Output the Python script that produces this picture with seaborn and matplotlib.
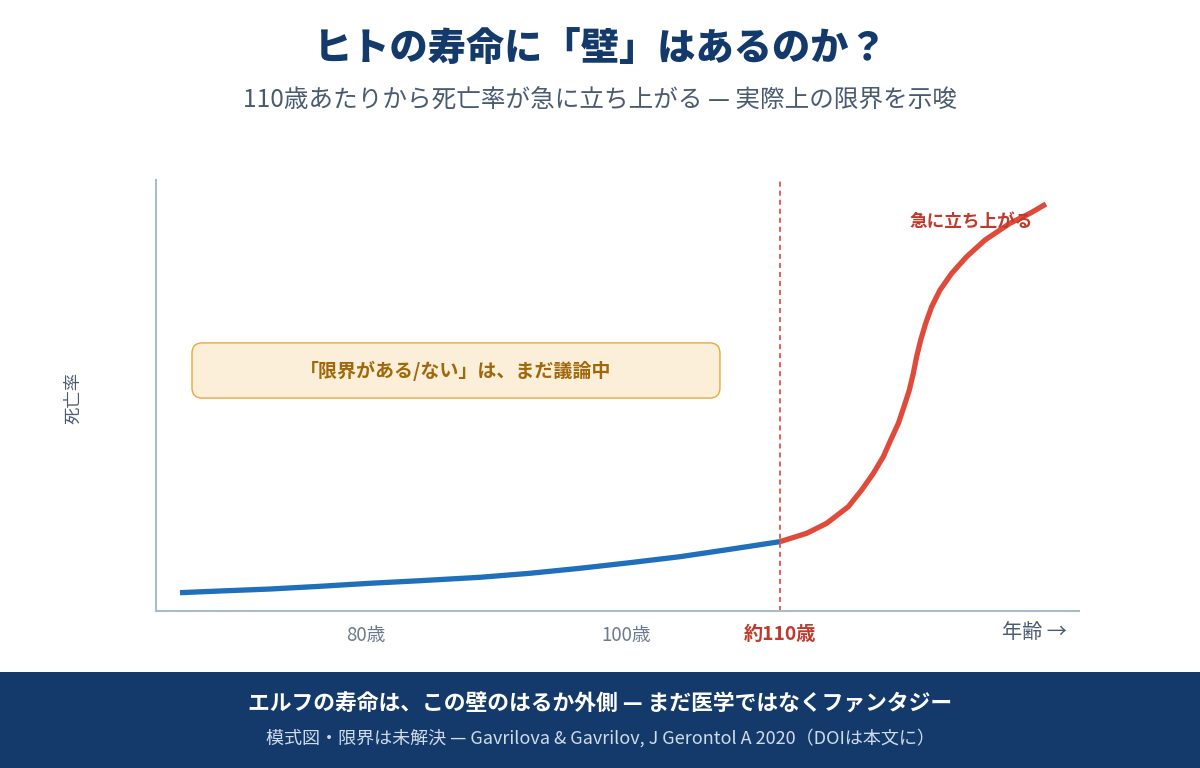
import numpy as np
import pandas as pd
import matplotlib.pyplot as plt
import seaborn as sns
from matplotlib.patches import FancyBboxPatch, Rectangle

# --- データ (模式図: 横軸・縦軸とも 0-100 の相対位置) ---
blue_x = [2.60, 6.93, 12.35, 17.77, 23.19, 28.60, 35.10, 40.52, 45.94, 51.35,
          56.77, 62.19, 67.61]
blue_y = [4.25, 4.64, 5.10, 5.73, 6.43, 7.03, 7.82, 8.75, 9.91, 11.21,
          12.60, 14.32, 16.09]

red_x = [67.61, 70.49, 72.66, 75.01, 76.45, 77.72, 78.80, 79.60, 80.43, 81.04,
         81.62, 82.05, 82.41, 82.85, 83.39, 84.04, 84.94, 86.21, 87.83, 89.82,
         92.52, 94.69, 96.42]
red_y = [16.09, 18.02, 20.34, 24.21, 28.07, 31.94, 35.81, 39.68, 43.54, 47.41,
         51.28, 55.14, 59.01, 62.88, 66.75, 70.61, 74.48, 78.35, 82.21, 86.08,
         89.95, 92.27, 94.43]

tick_pos = [22.75, 50.9, 67.6]
tick_labels = ['80歳', '100歳', '約110歳']
wall_x = 67.6

NAVY = '#143a6b'
SLATE = '#4a5a70'
BLUE = '#1f6fba'
RED = '#e04a3a'
DARKRED = '#c0392b'

df_blue = pd.DataFrame({'x': blue_x, 'y': blue_y})
df_red = pd.DataFrame({'x': red_x, 'y': red_y})

sns.set_theme(style='white')
plt.rcParams['font.family'] = ['Noto Sans CJK JP', 'DejaVu Sans']

fig = plt.figure(figsize=(12, 7.68), dpi=100)
ax = fig.add_axes([156 / 1200, 1 - 611 / 768, 923 / 1200, 431 / 768])

sns.lineplot(data=df_blue, x='x', y='y', ax=ax, color=BLUE, linewidth=3.8,
             sort=False, solid_capstyle='butt', solid_joinstyle='round')
sns.lineplot(data=df_red, x='x', y='y', ax=ax, color=RED, linewidth=3.8,
             sort=False, solid_capstyle='butt', solid_joinstyle='round')
ax.axvline(wall_x, color='#e05548', linewidth=1.3, linestyle=(0, (2.8, 2.2)))

ax.set_xlim(0, 100)
ax.set_ylim(0, 100)
ax.set_xlabel('')
ax.set_ylabel('')
ax.set_yticks([])
ax.set_xticks(tick_pos)
ax.set_xticklabels(tick_labels)
ax.tick_params(axis='x', length=0, pad=10, labelsize=13.5, labelcolor='#6b7a8c')
lbl = ax.get_xticklabels()[-1]
lbl.set_color(DARKRED)
lbl.set_fontweight('bold')
lbl.set_fontsize(13.8)

for s in ['top', 'right']:
    ax.spines[s].set_visible(False)
for s in ['left', 'bottom']:
    ax.spines[s].set_color('#a9bccd')
    ax.spines[s].set_linewidth(1.5)

# 注釈ボックス
box = FancyBboxPatch((3.9, 49.4), 57.2, 12.8,
                     boxstyle='round,pad=0,rounding_size=1.1',
                     mutation_aspect=923 / 431,
                     facecolor='#fbefd9', edgecolor='#e8a93a', linewidth=1.0)
ax.add_patch(box)
ax.text(32.5, 55.8, '「限界がある/ない」は、まだ議論中', ha='center', va='center',
        fontsize=13.7, fontweight='bold', color='#a0680a')
ax.text(88.3, 90.3, '急に立ち上がる', ha='center', va='center',
        fontsize=12.7, fontweight='bold', color=DARKRED)

# タイトル
fig.text(0.5, 1 - 50 / 768, 'ヒトの寿命に「壁」はあるのか？', ha='center', va='center',
         fontsize=27.5, fontweight='heavy', color=NAVY)
fig.text(0.5, 1 - 101 / 768, '110歳あたりから死亡率が急に立ち上がる — 実際上の限界を示唆',
         ha='center', va='center', fontsize=17.7, color=SLATE)

fig.text(73 / 1200, 1 - 398 / 768, '死亡率', rotation=90, ha='center', va='center',
         fontsize=12.5, color=SLATE)
fig.text(1034 / 1200, 1 - 633 / 768, '年齢 →', ha='center', va='center',
         fontsize=14.5, color=SLATE)

# フッター
fig.patches.append(Rectangle((0, 0), 1, 96 / 768, transform=fig.transFigure,
                             facecolor=NAVY, edgecolor='none', zorder=0))
fig.text(0.5, 1 - 704 / 768, 'エルフの寿命は、この壁のはるか外側 — まだ医学ではなくファンタジー',
         ha='center', va='center', fontsize=15.7, fontweight='bold', color='white')
fig.text(0.5, 1 - 738 / 768,
         '模式図・限界は未解決 — Gavrilova & Gavrilov, J Gerontol A 2020（DOIは本文に）',
         ha='center', va='center', fontsize=13, color='#d0dcea')

fig.savefig('out.png', dpi=100, facecolor='white')
